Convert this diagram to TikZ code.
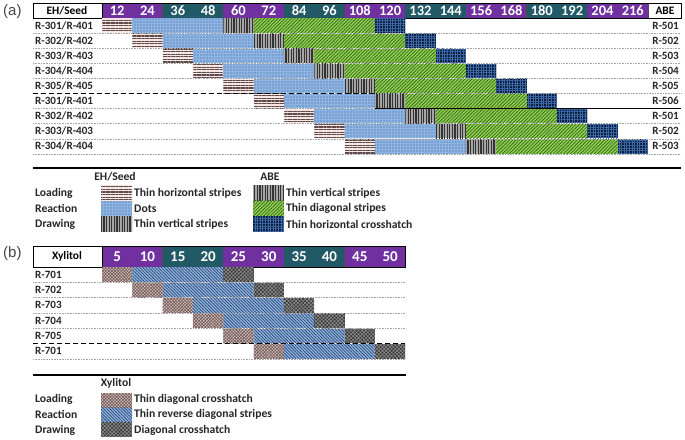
\documentclass[tikz,border=0pt]{standalone}
\usepackage{fontspec}
\setmainfont{Carlito}
\newfontfamily\arialf{Liberation Sans}
\usetikzlibrary{patterns.meta}
\definecolor{hpurple}{HTML}{7030A0}
\definecolor{hteal}{HTML}{215967}
\definecolor{pinkbg}{HTML}{F5E6E4}
\definecolor{brownline}{HTML}{5E4A4A}
\definecolor{dotbg}{HTML}{8DB4E2}
\definecolor{dotc}{HTML}{3F5F95}
\definecolor{vbg}{HTML}{A6A6A6}
\definecolor{vline}{HTML}{333333}
\definecolor{greenbg}{HTML}{92D050}
\definecolor{gline}{HTML}{3B6E22}
\definecolor{xbg}{HTML}{0C1E3C}
\definecolor{xline}{HTML}{3C68A8}
\definecolor{lbbg}{HTML}{D9C0BA}
\definecolor{lbline}{HTML}{6E5A5A}
\definecolor{rbbg}{HTML}{95B3D7}
\definecolor{rbline}{HTML}{2F5288}
\definecolor{dbbg}{HTML}{3A3A3A}
\definecolor{dbline}{HTML}{8C8C8C}
\definecolor{txt}{HTML}{262626}
\tikzset{
  loadA/.style={preaction={fill=pinkbg}, pattern={Lines[angle=0,distance=2.6pt,line width=1.1pt]}, pattern color=brownline},
  dotA/.style={preaction={fill=dotbg}, pattern={Dots[distance=3pt,radius=0.6pt]}, pattern color=dotc},
  vertA/.style={preaction={fill=vbg}, pattern={Lines[angle=90,distance=2.6pt,line width=1.1pt]}, pattern color=vline},
  greenA/.style={preaction={fill=greenbg}, pattern={Lines[angle=45,distance=2.4pt,line width=0.8pt]}, pattern color=gline},
  crossA/.style={preaction={fill=xbg}, pattern={Hatch[angle=0,distance=2.6pt,line width=0.45pt]}, pattern color=xline},
  loadB/.style={preaction={fill=lbbg}, pattern={Hatch[angle=45,distance=2.2pt,line width=0.6pt]}, pattern color=lbline},
  reactB/.style={preaction={fill=rbbg}, pattern={Lines[angle=-45,distance=2.2pt,line width=0.8pt]}, pattern color=rbline},
  drawB/.style={preaction={fill=dbbg}, pattern={Hatch[angle=45,distance=2.6pt,line width=0.6pt]}, pattern color=dbline},
  rowlbl/.style={font=\bfseries\fontsize{11.1}{13}\selectfont, text=txt, inner sep=0pt},
  leglbl/.style={font=\bfseries\fontsize{11.6}{13}\selectfont, text=txt, inner sep=0pt, anchor=west},
  hnum/.style={font=\bfseries\fontsize{14.5}{16}\selectfont, text=white, inner sep=0pt},
  hcell/.style={font=\bfseries\fontsize{11.4}{13}\selectfont, text=black, inner sep=0pt},
  sep/.style={densely dotted, gray!70, line width=0.6pt},
  panel/.style={font=\arialf\fontsize{15}{17}\selectfont, text=txt!85, inner sep=0pt, anchor=west}
}
\begin{document}
\begin{tikzpicture}[x=1pt,y=-1pt]
\useasboundingbox[fill=white] (0,0) rectangle (685,439);
% ---------------- (a) ----------------
\node[panel] (pa) at (3,12) {(a)};
\fill[white] (33,3) rectangle (102,18);
\fill[white] (648,3) rectangle (681,18);
\foreach \k in {0,...,8} {
  \pgfmathsetmacro\xa{102+2*\k*30.33}
  \pgfmathsetmacro\xb{102+(2*\k+2)*30.33}
  \pgfmathtruncatemacro\prty{mod(\k,2)}
  \ifnum\prty=0 \fill[hpurple] (\xa,3) rectangle (\xb,18); \else \fill[hteal] (\xa,3) rectangle (\xb,18); \fi
  \draw[black!70, line width=0.4pt] (\xb,3) -- (\xb,18);
}
\foreach \v [count=\c from 0] in {12,24,36,48,60,72,84,96,108,120,132,144,156,168,180,192,204,216} {
  \node[hnum] (ha\c) at ({102+(\c+0.5)*30.33},10.8) {\v};
}
\draw[line width=0.8pt] (33,3) rectangle (681,18);
\draw[line width=0.4pt] (102,3) -- (102,18);
\node[hcell] (hEH) at (67,10.8) {EH/Seed};
\node[hcell] (hABE) at (665,10.8) {ABE};
% bars
\foreach \i in {0,...,8} {
  \pgfmathsetmacro\yt{18+\i*15.1+0.4}
  \pgfmathsetmacro\yb{18+(\i+1)*15.1-0.4}
  \fill[loadA] ({102+\i*30.33},\yt) rectangle ({102+(\i+1)*30.33},\yb);
  \fill[dotA] ({102+(\i+1)*30.33},\yt) rectangle ({102+(\i+4)*30.33},\yb);
  \fill[vertA] ({102+(\i+4)*30.33},\yt) rectangle ({102+(\i+5)*30.33},\yb);
  \fill[greenA] ({102+(\i+5)*30.33},\yt) rectangle ({102+(\i+9)*30.33},\yb);
  \fill[crossA] ({102+(\i+9)*30.33},\yt) rectangle ({102+(\i+10)*30.33},\yb);
}
% separators
\foreach \i in {1,2,3,4,7,8,9} {
  \draw[sep] (33,{18+\i*15.1}) -- (681,{18+\i*15.1});
}
\draw[sep] (375,{18+5*15.1}) -- (681,{18+5*15.1});
\draw[sep] (33,{18+6*15.1}) -- (375,{18+6*15.1});
\draw[dashed, dash pattern=on 5pt off 3pt, line width=1.1pt] (33,{18+5*15.1}) -- (375,{18+5*15.1});
\draw[line width=1.1pt] (375,{18+6*15.1}) -- (681,{18+6*15.1});
% labels
\foreach \l/\m/\r [count=\c from 0] in {R-301/R-401/R-501,R-302/R-402/R-502,R-303/R-403/R-503,R-304/R-404/R-504,R-305/R-405/R-505,R-301/R-401/R-506,R-302/R-402/R-501,R-303/R-403/R-502,R-304/R-404/R-503} {
  \node[rowlbl, anchor=west] (la\c) at (35,{18+(\c+0.5)*15.1}) {\l/\m};
  \node[rowlbl, anchor=east] (ra\c) at (679,{18+(\c+0.5)*15.1}) {\r};
}
% legend (a)
\draw[line width=1.4pt] (33,168) -- (681,168);
\node[leglbl, anchor=center] (lgEH) at (115,177) {EH/Seed};
\node[leglbl, anchor=center] (lgABE) at (270,177) {ABE};
\node[leglbl] (lgL) at (35,193) {Loading};
\node[leglbl] (lgR) at (35,208.5) {Reaction};
\node[leglbl] (lgD) at (35,224) {Drawing};
\fill[loadA] (101,185) rectangle (132,200.5);
\fill[dotA] (101,200.5) rectangle (132,216);
\fill[vertA] (101,216) rectangle (132,231.5);
\fill[vertA] (253,185) rectangle (284,200.5);
\fill[greenA] (253,200.5) rectangle (284,216);
\fill[crossA] (253,216) rectangle (284,231.5);
\node[leglbl] (t1) at (134,193) {Thin horizontal stripes};
\node[leglbl] (t2) at (134,208.5) {Dots};
\node[leglbl] (t3) at (134,224) {Thin vertical stripes};
\node[leglbl] (t4) at (286,193) {Thin vertical stripes};
\node[leglbl] (t5) at (286,208.5) {Thin diagonal stripes};
\node[leglbl] (t6) at (286,224) {Thin horizontal crosshatch};
% ---------------- (b) ----------------
\node[panel] (pb) at (3,254) {(b)};
\fill[white] (33,246) rectangle (102,267);
\foreach \k in {0,...,4} {
  \pgfmathsetmacro\xa{102+2*\k*30.33}
  \pgfmathsetmacro\xb{102+(2*\k+2)*30.33}
  \pgfmathtruncatemacro\prty{mod(\k,2)}
  \ifnum\prty=0 \fill[hpurple] (\xa,246) rectangle (\xb,267); \else \fill[hteal] (\xa,246) rectangle (\xb,267); \fi
  \draw[black!70, line width=0.4pt] (\xb,246) -- (\xb,267);
}
\foreach \v [count=\c from 0] in {5,10,15,20,25,30,35,40,45,50} {
  \node[hnum, font=\bfseries\fontsize{15}{17}\selectfont] (hb\c) at ({102+(\c+0.5)*30.33},256.5) {\v};
}
\draw[line width=0.8pt] (33,246) rectangle (405.3,267);
\draw[line width=0.4pt] (102,246) -- (102,267);
\node[hcell] (hX) at (67,256.5) {Xylitol};
\foreach \j in {0,...,5} {
  \pgfmathsetmacro\yt{267+\j*15.33+0.4}
  \pgfmathsetmacro\yb{267+(\j+1)*15.33-0.4}
  \fill[loadB] ({102+\j*30.33},\yt) rectangle ({102+(\j+1)*30.33},\yb);
  \fill[reactB] ({102+(\j+1)*30.33},\yt) rectangle ({102+(\j+4)*30.33},\yb);
  \fill[drawB] ({102+(\j+4)*30.33},\yt) rectangle ({102+(\j+5)*30.33},\yb);
}
\foreach \j in {1,2,3,4,6} {
  \draw[sep] (33,{267+\j*15.33}) -- (405.3,{267+\j*15.33});
}
\draw[dashed, dash pattern=on 5pt off 3pt, line width=1.1pt] (33,{267+5*15.33}) -- (405.3,{267+5*15.33});
\foreach \l [count=\c from 0] in {R-701,R-702,R-703,R-704,R-705,R-701} {
  \node[rowlbl, anchor=west] (lb\c) at (35,{267+(\c+0.5)*15.33}) {\l};
}
% legend (b)
\draw[line width=1.4pt] (33,375) -- (406,375);
\node[leglbl, anchor=center] (lgX) at (116,383) {Xylitol};
\node[leglbl] (lgL2) at (35,399) {Loading};
\node[leglbl] (lgR2) at (35,414.5) {Reaction};
\node[leglbl] (lgD2) at (35,430) {Drawing};
\fill[loadB] (101,393) rectangle (132,407.5);
\fill[reactB] (101,407.5) rectangle (132,422);
\fill[drawB] (101,422) rectangle (132,436.5);
\node[leglbl] (u1) at (134,399) {Thin diagonal crosshatch};
\node[leglbl] (u2) at (134,414.5) {Thin reverse diagonal stripes};
\node[leglbl] (u3) at (134,430) {Diagonal crosshatch};
\end{tikzpicture}
\end{document}
